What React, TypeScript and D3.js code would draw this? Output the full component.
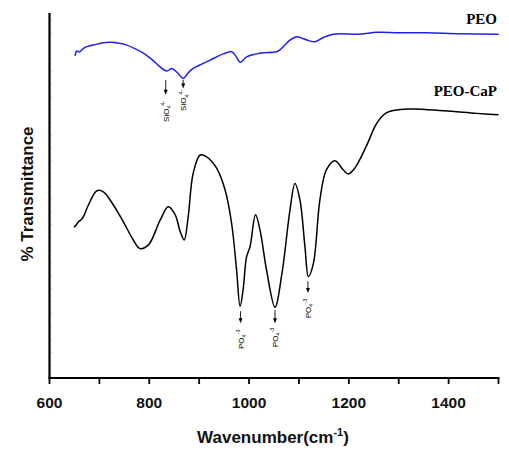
import React from 'react';
import * as d3 from 'd3';

// FTIR spectra (wavenumber cm-1, transmittance a.u.)
const peoWave = [651, 655, 660, 668, 675, 690, 705, 721, 740, 755, 770, 788, 805, 821, 835, 845, 856, 868, 878, 888, 905, 922, 948, 965, 972, 983, 995, 1022, 1055, 1062, 1082, 1096, 1106, 1116, 1132, 1149, 1169, 1222, 1256, 1300, 1356, 1423, 1500];
const peoT = [88.3, 89.6, 89.3, 90.3, 90.8, 91.3, 91.8, 92.0, 91.7, 91.2, 90.3, 89.0, 87.3, 85.3, 84.1, 84.8, 83.7, 82.1, 83.6, 84.8, 86.0, 87.1, 88.8, 89.4, 88.5, 86.5, 88.0, 89.0, 89.4, 89.9, 92.6, 93.5, 93.1, 92.6, 92.1, 93.3, 94.2, 94.2, 94.7, 94.6, 94.6, 94.3, 94.2];

const capWave = [649, 654, 658, 663, 668, 678, 695, 708, 728, 748, 768, 781, 798, 822, 838, 852, 862, 870, 878, 888, 902, 915, 935, 952, 965, 975, 982, 988, 995, 1002, 1013, 1022, 1035, 1052, 1066, 1082, 1092, 1102, 1112, 1119, 1129, 1142, 1155, 1172, 1189, 1199, 1212, 1236, 1256, 1276, 1323, 1390, 1456, 1500];
const capT = [41.3, 42.0, 42.8, 43.3, 44.2, 47.4, 51.3, 51.0, 47.4, 42.8, 37.8, 35.5, 36.4, 43.3, 46.9, 44.7, 40.1, 37.8, 44.2, 56.1, 61.1, 60.6, 57.5, 51.5, 42.4, 29.6, 19.6, 24.1, 33.2, 36.0, 44.7, 40.5, 29.6, 19.4, 28.7, 46.0, 53.3, 48.8, 36.0, 27.8, 31.4, 48.8, 57.0, 59.5, 57.0, 55.9, 57.5, 63.8, 69.8, 72.7, 73.7, 73.2, 72.5, 72.1];

const xTicks = [600, 800, 1000, 1200, 1400];
const xMinor = [700, 900, 1100, 1300, 1500];

// band assignments: wavenumber, arrow top/bottom (a.u.), label end (a.u.)
const siBands = [
  { w: 833, top: 81.6, bottom: 77.6, label: 76.0 },
  { w: 868, top: 81.7, bottom: 79.3, label: 79.0 },
];
const poBands = [
  { w: 983, top: 18.3, bottom: 15.0, label: 13.3 },
  { w: 1052, top: 18.6, bottom: 15.0, label: 13.8 },
  { w: 1118, top: 26.5, bottom: 23.3, label: 21.7 },
];

const W = 509;
const H = 450;

function Arrow({ px, y1, y2 }: { px: number; y1: number; y2: number }) {
  return (
    <g>
      <line x1={px} x2={px} y1={y1} y2={y2 - 4} stroke="#000" strokeWidth={0.9} />
      <path d={`M${px - 2},${y2 - 5} L${px + 2},${y2 - 5} L${px},${y2} Z`} fill="#000" />
    </g>
  );
}

function App() {
  const x = d3.scaleLinear().domain([600, 1500]).range([49.5, 498.5]);
  const y = d3.scaleLinear().domain([0, 100]).range([378, 13]);

  const line = d3.line<[number, number]>()
    .x(d => x(d[0]))
    .y(d => y(d[1]))
    .curve(d3.curveCatmullRom.alpha(0.5));

  const peoPath = line(peoWave.map((w, i) => [w, peoT[i]]));
  const capPath = line(capWave.map((w, i) => [w, capT[i]]));

  const yFaint = d3.range(3.5, 100, 3.5);

  return (
    <svg width={W} height={H} style={{ position: 'absolute', left: 0, top: 0, background: '#fff' }}>
      {/* faint y ticks */}
      {yFaint.map(v => (
        <line key={v} x1={x(600)} x2={x(600) + 3} y1={y(v)} y2={y(v)} stroke="#ccc" strokeWidth={0.6} />
      ))}

      <path d={peoPath ?? ''} fill="none" stroke="#1f1fef" strokeWidth={1.5} />
      <path d={capPath ?? ''} fill="none" stroke="#000" strokeWidth={1.5} />

      {/* axes */}
      <line x1={x(600)} x2={x(600)} y1={y(100)} y2={y(0) + 1} stroke="#000" strokeWidth={2.2} />
      <line x1={x(600) - 1} x2={x(1500) + 1} y1={y(0)} y2={y(0)} stroke="#000" strokeWidth={2.2} />
      {[...xTicks, ...xMinor].map(t => (
        <line key={t} x1={x(t)} x2={x(t)} y1={y(0)} y2={y(0) + 6} stroke="#000" strokeWidth={1.8} />
      ))}
      {xTicks.map(t => (
        <text key={t} x={x(t)} y={408} textAnchor="middle" fontFamily="Liberation Sans, Arial, sans-serif" fontWeight="bold" fontSize={15.5} fill="#111">
          {t}
        </text>
      ))}
      <text x={273} y={443} textAnchor="middle" fontFamily="Liberation Sans, Arial, sans-serif" fontWeight="bold" fontSize={17} fill="#111">
        Wavenumber(cm<tspan dy={-7} fontSize={11}>-1</tspan><tspan dy={7}>)</tspan>
      </text>
      <text transform="translate(33,194) rotate(-90)" textAnchor="middle" fontFamily="Liberation Sans, Arial, sans-serif" fontWeight="bold" fontSize={17} fill="#111">
        % Transmittance
      </text>

      {/* series labels */}
      <text x={497} y={24} textAnchor="end" fontFamily="Liberation Serif, Times New Roman, serif" fontWeight="bold" fontSize={15} fill="#000">PEO</text>
      <text x={497} y={96} textAnchor="end" fontFamily="Liberation Serif, Times New Roman, serif" fontWeight="bold" fontSize={15} fill="#000">PEO-CaP</text>

      {/* band arrows */}
      {siBands.map(b => (
        <g key={b.w}>
          <Arrow px={x(b.w)} y1={y(b.top)} y2={y(b.bottom)} />
          <text transform={`translate(${x(b.w) + 3},${y(b.label)}) rotate(-90)`} textAnchor="end" fontFamily="Liberation Sans, Arial, sans-serif" fontSize={8} fill="#000">
            SiO<tspan dy={2.5} fontSize={5.5}>4</tspan><tspan dy={-6} fontSize={5.5}>4-</tspan>
          </text>
        </g>
      ))}
      {poBands.map(b => (
        <g key={b.w}>
          <Arrow px={x(b.w)} y1={y(b.top)} y2={y(b.bottom)} />
          <text transform={`translate(${x(b.w) + 3},${y(b.label)}) rotate(-90)`} textAnchor="end" fontFamily="Liberation Sans, Arial, sans-serif" fontSize={8} fill="#000">
            PO<tspan dy={2.5} fontSize={5.5}>4</tspan><tspan dy={-6} fontSize={5.5}>-3</tspan>
          </text>
        </g>
      ))}
    </svg>
  );
}

export default App;
